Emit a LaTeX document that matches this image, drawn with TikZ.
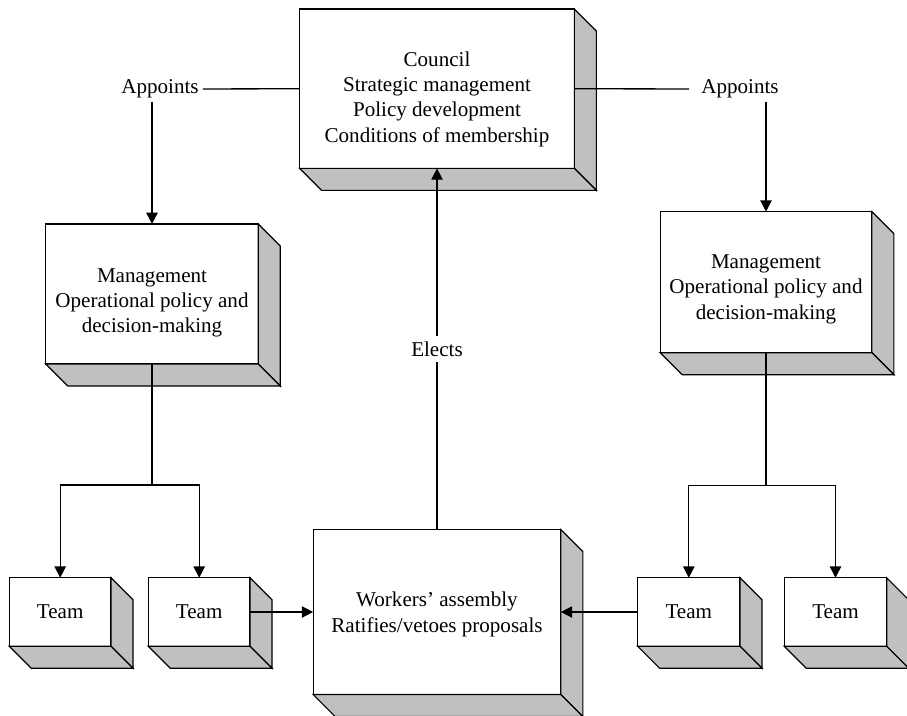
\documentclass[tikz,border=0pt]{standalone}
\usepackage{fontspec}
\setmainfont{Liberation Serif}
\usetikzlibrary{arrows.meta}
\definecolor{sidegray}{RGB}{192,192,192}
\newcommand{\dep}{22}
% name, x, y, width, height, text offset, text
\newcommand{\cube}[7]{
	\node[front, minimum width=#4*0.75pt, minimum height=#5*0.75pt] (#1) at (#2,#3) {};
	\draw[side] (#1.north east) -- ++(\dep,\dep) -- ([shift={(\dep,\dep)}]#1.south east) -- (#1.south east) -- cycle;
	\draw[side] (#1.south west) -- ++(\dep,\dep) -- ([shift={(\dep,\dep)}]#1.south east) -- (#1.south east) -- cycle;
	\node[txt] (#1T) at (#2,#3+#6) {#7};
}

\begin{document}
\begin{tikzpicture}[x=0.75pt, y=-0.75pt,
	font=\fontsize{15.8}{19}\selectfont,
	front/.style={draw, fill=white, line width=0.9pt, inner sep=0pt, outer sep=0pt},
	side/.style={draw, fill=sidegray, line width=0.9pt, line join=miter},
	txt/.style={align=center, inner sep=0pt},
	lbl/.style={inner sep=3pt, fill=white},
	arr/.style={-{Triangle[length=8.5pt, width=8.5pt]}},
	link/.style={line width=1pt}]
	\useasboundingbox (0,0) rectangle (907,715);

	\cube{council}{437}{88.7}{274.7}{159.3}{10.3}{Council\\Strategic management\\Policy development\\Conditions of membership}
	\cube{mgmtL}{152}{294}{212.6}{140}{9}{Management\\Operational policy and\\decision-making}
	\cube{mgmtR}{766}{282.2}{211.7}{141}{7}{Management\\Operational policy and\\decision-making}
	\cube{workers}{437}{612}{247.7}{165}{2.5}{Workers’ assembly\\Ratifies/vetoes proposals}
	\cube{team1}{60.2}{612}{101.7}{68.5}{0}{Team}
	\cube{team2}{199.2}{612}{101.7}{68.5}{0}{Team}
	\cube{team3}{688.8}{612}{102.3}{68.5}{0}{Team}
	\cube{team4}{835.5}{612}{102.3}{68.5}{0}{Team}

	\node[lbl] (appL) at (160,89) {Appoints};
	\node[lbl] (appR) at (740,89) {Appoints};
	\node[lbl, inner sep=4pt] (elects) at (437,349) {Elects};

	\coordinate (forkL) at (152,485);
	\coordinate (forkR) at (766,485.7);

	\draw[link] (council.west) -- (appL.east);
	\draw[link] (council.east) -- ([xshift=-6pt]appR.west);
	\draw[link, arr] (appL.south -| mgmtL.north) -- (mgmtL.north);
	\draw[link, arr] (appR.south -| mgmtR.north) -- (mgmtR.north);

	\draw[link] (mgmtL.south) -- (forkL);
	\draw[link, arr] (forkL) -| (team1.north);
	\draw[link, arr] (forkL) -| (team2.north);
	\draw[link] (mgmtR.south) -- (forkR);
	\draw[link, arr] (forkR) -| (team3.north);
	\draw[link, arr] (forkR) -| (team4.north);

	\draw[link, arr] (team2.east) -- (workers.west);
	\draw[link, arr] (team3.west) -- (workers.east);
	\draw[link] (workers.north) -- (elects.south);
	\draw[link, arr] (elects.north) -- (council.south);
\end{tikzpicture}
\end{document}
